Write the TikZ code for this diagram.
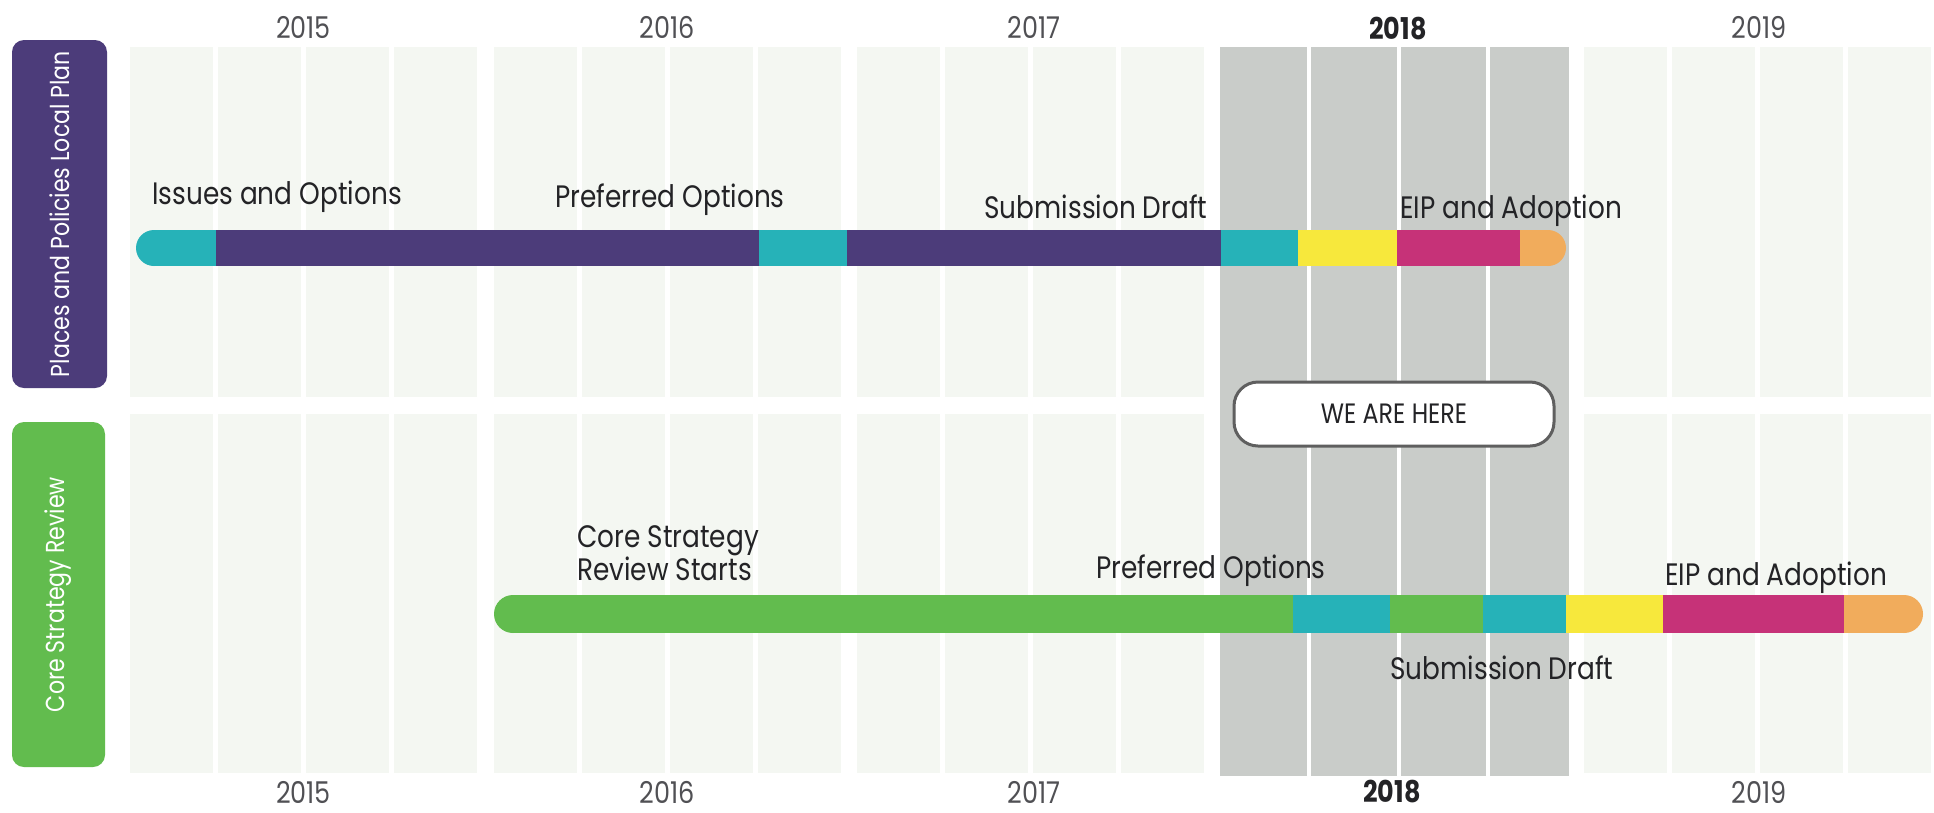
\documentclass[tikz,border=0pt]{standalone}
\usepackage{fontspec}
\setmainfont{Poppins}[FakeStretch=0.85]
\definecolor{plum}{RGB}{76,60,122}
\definecolor{leaf}{RGB}{98,188,78}
\definecolor{aqua}{RGB}{38,178,184}
\definecolor{lemon}{RGB}{247,232,60}
\definecolor{berry}{RGB}{198,50,120}
\definecolor{peach}{RGB}{241,172,92}
\definecolor{mist}{RGB}{244,247,242}
\definecolor{smoke}{RGB}{201,204,201}
\definecolor{ink}{RGB}{35,35,38}
\definecolor{yeargray}{RGB}{80,80,84}
\definecolor{rim}{RGB}{95,95,95}

\begin{document}
\begin{tikzpicture}[%
		x=1pt,
		y=-1pt,
		lbl/.style={%
			font=\fontsize{31}{28}\selectfont,
			text=ink,
			inner sep=0pt
		},
		yr/.style={%
			font=\fontsize{30}{30}\selectfont,
			text=yeargray,
			inner sep=0pt
		},
		side/.style={%
			rotate=90,
			rounded corners=12pt,
			text=white,
			font=\fontsize{26}{26}\selectfont,
			inner sep=0pt
		},
		here/.style={%
			draw=rim,
			line width=3pt,
			fill=white,
			rounded corners=24pt,
			minimum width=320,
			minimum height=64,
			text=ink,
			font=\fontsize{28}{28}\selectfont
		}
		]
		\useasboundingbox[fill=white] (0,0) rectangle (1934,812);
		
		% quarter strips
		\foreach \k in {0,1,2,4}
		\foreach \q in {0,...,3} {
			\fill[mist] ({130+363.5*\k+88*\q},47) rectangle +(83,350);
			\fill[mist] ({130+363.5*\k+88*\q},414) rectangle +(83,359);
		}
		\fill[smoke] (1220,47) rectangle (1569,776);
		\foreach \q in {1,2,3}
		\fill[white] ({1218+89.3*\q},47) rectangle +(4,729);
		
		% years
		\foreach \y/\x in {2015/303.5,2016/667,2017/1034,2019/1759} {
			\node[yr] (t\y) at (\x,27) {\y};
			\node[yr] (b\y) at (\x,792) {\y};
		}
		\node[yr, text=ink, font=\fontsize{30}{30}\selectfont\bfseries] (t2018) at (1398,29) {2018};
		\node[yr, text=ink, font=\fontsize{30}{30}\selectfont\bfseries] (b2018) at (1392,792) {2018};
		
		% side labels
		\node[side, fill=plum, minimum width=348, minimum height=95] (pp) at (59.5,214) {Places and Policies Local Plan};
		\node[side, fill=leaf, minimum width=345, minimum height=93] (cs) at (58.5,594.5) {Core Strategy Review};
		
		% places and policies bar
		\foreach \a/\b/\c in {154/216/aqua,216/759/plum,759/847/aqua,847/1221/plum,1221/1298/aqua,1298/1397/lemon,1397/1520/berry,1520/1548/peach}
		\fill[\c] (\a,230) rectangle (\b,266);
		\fill[aqua] (154,248) circle (18);
		\fill[peach] (1548,248) circle (18);
		
		% core strategy bar
		\foreach \a/\b/\c in {513/1293/leaf,1293/1390/aqua,1390/1483/leaf,1483/1566/aqua,1566/1663/lemon,1663/1844/berry,1844/1905/peach}
		\fill[\c] (\a,595) rectangle (\b,633);
		\fill[leaf] (513,614) circle (19);
		\fill[peach] (1904,614) circle (19);
		
		% stage labels
		\node[lbl] (1) at (277,197) {Issues and Options};
		\node[lbl] (2) at (670,200) {Preferred Options};
		\node[lbl] (3) at (1096,207) {Submission Draft};
		\node[lbl] (4) at (1511,211) {EIP and Adoption};
		\node[lbl, align=left, anchor=west] (5) at (577,553) {Core Strategy\\Review Starts};
		\node[lbl] (6) at (1211,571) {Preferred Options};
		\node[lbl] (7) at (1502,668) {Submission Draft};
		\node[lbl] (8) at (1776,578) {EIP and Adoption};
		
		\node[here] (now) at (1394,414) {WE ARE HERE};
\end{tikzpicture}
\end{document}
